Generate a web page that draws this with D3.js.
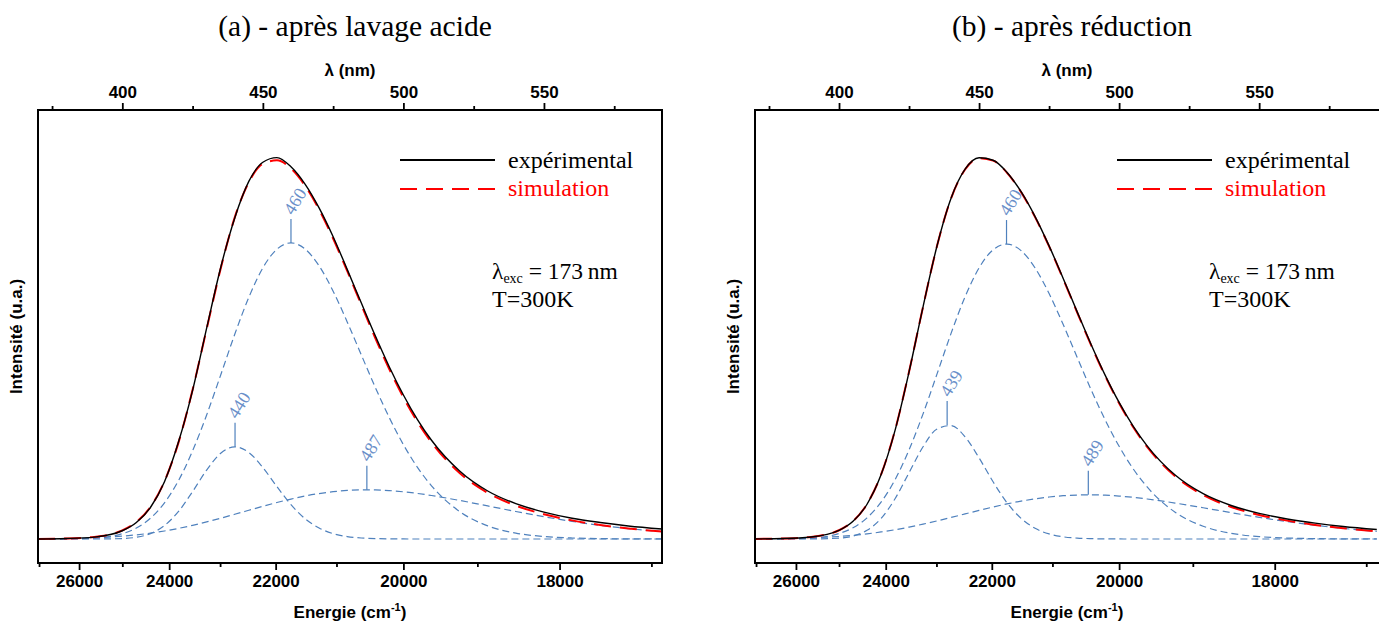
<!DOCTYPE html>
<html><head><meta charset="utf-8">
<script src="https://cdn.jsdelivr.net/npm/d3@7"></script>
<style>body{margin:0;background:#fff} svg{display:block}</style>
</head><body>
<svg id="chart" width="1379" height="624"></svg>
<script>
// ---------- DATA ----------
const wavelengths = [370,380,390,400,405,410,415,420,425,430,435,440,445,450,455,460,465,470,475,480,485,490,495,500,505,510,520,530,540,550,560,570,580,592];

// Panel (a) - après lavage acide
const expA = [0,.0012,.005,.0215,.043,.082,.149,.253,.387,.549,.707,.836,.931,.981,.993,.969,.924,.862,.787,.702,.615,.529,.448,.375,.311,.257,.177,.125,.092,.070,.054,.043,.034,.026];
const simA = [.0003,.0014,.0055,.0224,.044,.0834,.1502,.2516,.3885,.5468,.7043,.8374,.929,.9772,.9859,.9645,.92,.8581,.7825,.698,.6103,.5233,.4421,.3687,.3052,.2517,.1719,.1203,.0869,.0645,.0485,.0366,.0275,.0193];
const g440A = [0,0,0,.0012,.0046,.014,.035,.0717,.1235,.1794,.2232,.24,.2252,.186,.1364,.0895,.0529,.0285,.014,.0063,.0026,.001,.0004,.0001,0,0,0,0,0,0,0,0,0,0];
const g460A = [0,.0003,.0024,.0138,.0286,.0541,.0943,.1523,.2295,.323,.427,.533,.629,.706,.7545,.771,.7552,.7113,.6453,.5653,.4798,.3946,.3157,.2457,.1866,.1385,.0715,.0342,.0153,.0065,.0026,.001,.0004,.0001];
const g487A = [.0003,.0011,.0031,.0074,.0108,.0153,.0209,.0276,.0355,.0444,.0541,.0644,.0748,.0852,.095,.104,.1119,.1183,.1232,.1264,.1279,.1277,.126,.1229,.1186,.1132,.1004,.0861,.0716,.058,.0459,.0356,.0271,.0192];
const peakLabelsA = ["440","460","487"];
const peakNmA = [440.1,460.0,487.0];
const peakAmpA = [.24,.771,.128];

// Panel (b) - après réduction
const expB = [.0002,.0012,.0052,.0225,.046,.0905,.167,.2828,.4352,.6045,.7636,.8872,.9628,.9925,.9862,.9545,.9042,.8395,.7632,.679,.592,.5065,.4268,.3556,.294,.2425,.1665,.118,.0873,.0668,.0522,.0412,.0326,.0248];
const simB = [.0003,.0013,.0054,.0228,.0464,.091,.1676,.2834,.4357,.6047,.7634,.8868,.962,.9915,.9852,.9535,.9031,.8381,.7617,.6773,.5903,.5046,.4247,.3532,.2914,.2397,.1633,.1146,.0834,.0626,.0478,.0367,.028,.02];
const g439B = [0,0,.0001,.0021,.0077,.0225,.0535,.1049,.1727,.2402,.2864,.2954,.2661,.2112,.149,.0941,.0537,.0278,.0132,.0057,.0023,.0009,.0003,.0001,0,0,0,0,0,0,0,0,0,0];
const g460B = [0,.0003,.0025,.0142,.0292,.0551,.0958,.1544,.2321,.3258,.4299,.5353,.6306,.7059,.753,.768,.7508,.7057,.6391,.5589,.4735,.3887,.3104,.2413,.1829,.1355,.0697,.0333,.0148,.0062,.0025,.001,.0004,.0001];
const g489B = [.0003,.001,.0028,.0065,.0095,.0134,.0183,.0241,.0309,.0387,.0471,.0561,.0653,.0744,.0832,.0914,.0986,.1046,.1094,.1127,.1145,.115,.114,.1118,.1085,.1042,.0936,.0813,.0686,.0564,.0453,.0357,.0276,.0199];
const peakLabelsB = ["439","460","489"];
const peakNmB = [438.6,459.8,489.0];
const peakAmpB = [.297,.768,.115];

// Axes
const energyTicks = [26000,24000,22000,20000,18000];
const energyMinor = [27000,25000,23000,21000,19000,17000];
const nmTicks = [400,450,500,550];
const nmMinor = [375,425,475,525,575];
const nmDomainA = [370,592];
const nmDomainB = [370,593.5];
const titles = ["(a) - après lavage acide","(b) - après réduction"];
const legendLabels = ["expérimental","simulation"];

// ---------- DRAWING ----------
const svg = d3.select("#chart");
const SERIF = "'Liberation Serif','Times New Roman',serif";
const SANS = "'Liberation Sans',Arial,sans-serif";
const TOP = 110, BOTTOM = 563;
const y = d3.scaleLinear().domain([-0.0625, 1.117]).range([BOTTOM, TOP]);
const BLUE = "#4f81bd", BLUE_TXT = "#6a8fc9";

const panels = [
  {left:38, right:662, dom:nmDomainA, title:titles[0], exp:expA, sim:simA, comps:[g440A,g460A,g487A], labels:peakLabelsA, nm:peakNmA, amp:peakAmpA},
  {left:755, right:1381, dom:nmDomainB, title:titles[1], exp:expB, sim:simB, comps:[g439B,g460B,g489B], labels:peakLabelsB, nm:peakNmB, amp:peakAmpB}
];

panels.forEach((p, pi) => {
  const x = d3.scaleLinear().domain(p.dom).range([p.left, p.right]);
  const g = svg.append("g");
  const cx = p.left + 312;

  const clipId = "clip" + pi;
  svg.append("clipPath").attr("id", clipId).append("rect")
    .attr("x", p.left).attr("y", TOP).attr("width", p.right - p.left).attr("height", BOTTOM - TOP);

  const line = d3.line().x((d,i) => x(wavelengths[i])).y(d => y(d)).curve(d3.curveMonotoneX);
  const plot = g.append("g").attr("clip-path", `url(#${clipId})`);

  p.comps.forEach(c => plot.append("path").attr("d", line(c)).attr("fill","none")
    .attr("stroke", BLUE).attr("stroke-width", 1.2).attr("stroke-dasharray","7,4"));
  plot.append("path").attr("d", line(p.sim)).attr("fill","none")
    .attr("stroke","#ff0000").attr("stroke-width",2).attr("stroke-dasharray","17,9");
  plot.append("path").attr("d", line(p.exp)).attr("fill","none")
    .attr("stroke","#000").attr("stroke-width",1.4);

  // peak annotations
  p.labels.forEach((lab, i) => {
    const px = x(p.nm[i]), py = y(p.amp[i]);
    g.append("line").attr("x1",px).attr("x2",px).attr("y1",py).attr("y2",py-24)
      .attr("stroke",BLUE).attr("stroke-width",1.2);
    g.append("text").attr("transform",`translate(${px+2},${py-27}) rotate(-58)`)
      .attr("font-family",SERIF).attr("font-size",18).attr("fill",BLUE_TXT).text(lab);
  });

  // frame
  g.append("rect").attr("x",p.left).attr("y",TOP).attr("width",p.right-p.left).attr("height",BOTTOM-TOP)
    .attr("fill","none").attr("stroke","#000").attr("stroke-width",2);

  // bottom axis (energy)
  const styleAxis = sel => { sel.select(".domain").remove();
    sel.selectAll(".tick line").attr("stroke","#000").attr("stroke-width",1.8);
    sel.selectAll("text").attr("font-family",SANS).attr("font-size",17).attr("font-weight","bold").attr("fill","#000"); };
  g.append("g").attr("transform",`translate(0,${BOTTOM})`)
    .call(d3.axisBottom(x).tickValues(energyTicks.map(e=>1e7/e)).tickFormat((d,i)=>energyTicks[i]).tickSize(7).tickSizeOuter(0).tickPadding(5))
    .call(styleAxis);
  g.append("g").attr("transform",`translate(0,${BOTTOM})`)
    .call(d3.axisBottom(x).tickValues(energyMinor.map(e=>1e7/e)).tickFormat("").tickSize(4).tickSizeOuter(0))
    .call(styleAxis);
  // top axis (wavelength)
  g.append("g").attr("transform",`translate(0,${TOP})`)
    .call(d3.axisTop(x).tickValues(nmTicks).tickSize(7).tickSizeOuter(0).tickPadding(5))
    .call(styleAxis);
  g.append("g").attr("transform",`translate(0,${TOP})`)
    .call(d3.axisTop(x).tickValues(nmMinor).tickFormat("").tickSize(4).tickSizeOuter(0))
    .call(styleAxis);

  // axis titles
  const et = g.append("text").attr("x",cx).attr("y",618).attr("text-anchor","middle")
    .attr("font-family",SANS).attr("font-size",17).attr("font-weight","bold");
  et.append("tspan").text("Energie (cm");
  et.append("tspan").attr("font-size",11).attr("dy",-7).text("-1");
  et.append("tspan").attr("dy",7).text(")");
  g.append("text").attr("x",cx).attr("y",76).attr("text-anchor","middle")
    .attr("font-family",SANS).attr("font-size",17).attr("font-weight","bold").text("λ (nm)");
  g.append("text").attr("transform",`translate(${p.left-16},${(TOP+BOTTOM)/2}) rotate(-90)`)
    .attr("text-anchor","middle").attr("font-family",SANS).attr("font-size",17).attr("font-weight","bold")
    .text("Intensité (u.a.)");

  // panel title
  g.append("text").attr("x",p.left+317).attr("y",36).attr("text-anchor","middle")
    .attr("font-family",SERIF).attr("font-size",29.5).text(p.title);

  // legend
  const lx = p.left + 362;
  g.append("line").attr("x1",lx).attr("x2",lx+95).attr("y1",160).attr("y2",160).attr("stroke","#000").attr("stroke-width",2);
  g.append("line").attr("x1",lx).attr("x2",lx+95).attr("y1",189).attr("y2",189).attr("stroke","#ff0000").attr("stroke-width",2).attr("stroke-dasharray","17,9");
  g.append("text").attr("x",lx+108).attr("y",168).attr("font-family",SERIF).attr("font-size",24).text(legendLabels[0]);
  g.append("text").attr("x",lx+108).attr("y",196).attr("font-family",SERIF).attr("font-size",24).attr("fill","#ff0000").text(legendLabels[1]);

  // excitation info
  const t1 = g.append("text").attr("x",p.left+454).attr("y",279).attr("font-family",SERIF).attr("font-size",23.5);
  t1.append("tspan").text("λ");
  t1.append("tspan").attr("font-size",14).attr("dy",4).text("exc");
  t1.append("tspan").attr("dy",-4).text(" = 173\u2009nm");
  g.append("text").attr("x",p.left+454).attr("y",307).attr("font-family",SERIF).attr("font-size",24).text("T=300K");
});
</script>
</body></html>
